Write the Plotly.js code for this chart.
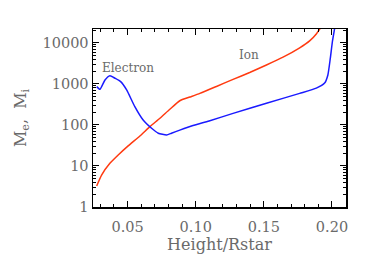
<!DOCTYPE html>
<html>
<head>
<meta charset="utf-8">
<script src="https://cdn.plot.ly/plotly-3.0.1.min.js"></script>
<style>html,body{margin:0;padding:0;background:#fff;}#chart{width:374px;height:267px;}</style>
</head>
<body>
<div id="chart"></div>
<script>
// Ion Mach number
const ionX = [0.0273, 0.0309, 0.0370, 0.0431, 0.0504, 0.0590, 0.0664, 0.0737, 0.0810, 0.0883, 0.0957, 0.1030, 0.1152, 0.1274, 0.1396, 0.1519, 0.1641, 0.1763, 0.1836, 0.1885, 0.1915];
const ionY = [3.25, 6.0, 11.6, 18.6, 31, 54, 91, 146, 241, 390, 480, 590, 870, 1290, 1900, 2900, 4500, 7600, 11200, 16600, 23000];
// Electron Mach number
const eleX = [0.0273, 0.0297, 0.0334, 0.0370, 0.0407, 0.0449, 0.0493, 0.0553, 0.0614, 0.0676, 0.0725, 0.0786, 0.0822, 0.0883, 0.0980, 0.1098, 0.1274, 0.1519, 0.1763, 0.1885, 0.1946, 0.1970, 0.1988, 0.2003, 0.2020];
const eleY = [860, 740, 1250, 1590, 1380, 1140, 715, 280, 132, 83, 63, 57, 63, 75, 97, 125, 192, 338, 590, 790, 1050, 1660, 4250, 10700, 23000];
const yTicks = [1, 10, 100, 1000, 10000];
const yTickText = ['1', '10', '100', '1000', '10000'];
const yMinor = [2, 3, 4, 5, 6, 7, 8, 9, 20, 30, 40, 50, 60, 70, 80, 90, 200, 300, 400, 500, 600, 700, 800, 900, 2000, 3000, 4000, 5000, 6000, 7000, 8000, 9000, 20000];
const xTicks = [0.05, 0.10, 0.15, 0.20];
const xTickText = ['0.05', '0.10', '0.15', '0.20'];
const labels = [{text: 'Electron', x: 0.0298, y: 2450}, {text: 'Ion', x: 0.1300, y: 5100}];

const fam = 'DejaVu Serif, Liberation Serif, serif';
const grey = '#6a6a6a';
const tickFont = {family: fam, size: 14.5, color: grey};
const titleFont = {family: fam, size: 16, color: grey};
const traces = [
  {x: ionX, y: ionY, mode: 'lines', line: {color: '#ff3a10', width: 1.5, shape: 'spline', smoothing: 0.5}, hoverinfo: 'none'},
  {x: eleX, y: eleY, mode: 'lines', line: {color: '#1a1aff', width: 1.5, shape: 'spline', smoothing: 0.5}, hoverinfo: 'none'}
];
const layout = {
  width: 374, height: 267,
  margin: {l: 93, r: 28, t: 29, b: 60},
  paper_bgcolor: '#fff', plot_bgcolor: '#fff',
  showlegend: false,
  font: tickFont,
  xaxis: {
    range: [0.0246, 0.2103], showgrid: false, zeroline: false,
    showline: true, linecolor: '#000', linewidth: 1.5, mirror: 'ticks',
    ticks: 'inside', ticklen: 6, tickcolor: '#000', tickwidth: 1,
    tickvals: xTicks, ticktext: xTickText, tickfont: tickFont, ticklabelstandoff: 6,
    minor: {ticks: 'inside', ticklen: 3, tickcolor: '#000', dtick: 0.01, tick0: 0, showgrid: false},
    title: {text: 'Height/Rstar', font: titleFont, standoff: 4}
  },
  yaxis: {
    type: 'log', range: [0, 4.34], showgrid: false, zeroline: false,
    showline: true, linecolor: '#000', linewidth: 1.5, mirror: 'ticks',
    ticks: 'inside', ticklen: 6, tickcolor: '#000', tickwidth: 1,
    tickvals: yTicks, ticktext: yTickText, tickfont: tickFont,
    minor: {ticks: 'inside', ticklen: 3, tickcolor: '#000', tickvals: yMinor, showgrid: false},
    title: {text: 'M<sub>e</sub>,  M<sub>i</sub>', font: titleFont, standoff: 12}
  },
  annotations: labels.map(l => ({
    text: l.text, x: l.x, y: Math.log10(l.y), xref: 'x', yref: 'y',
    showarrow: false, xanchor: 'left', yanchor: 'middle',
    font: {family: fam, size: 12, color: grey}
  }))
};
Plotly.newPlot('chart', traces, layout, {staticPlot: true, displayModeBar: false});
</script>
</body>
</html>
